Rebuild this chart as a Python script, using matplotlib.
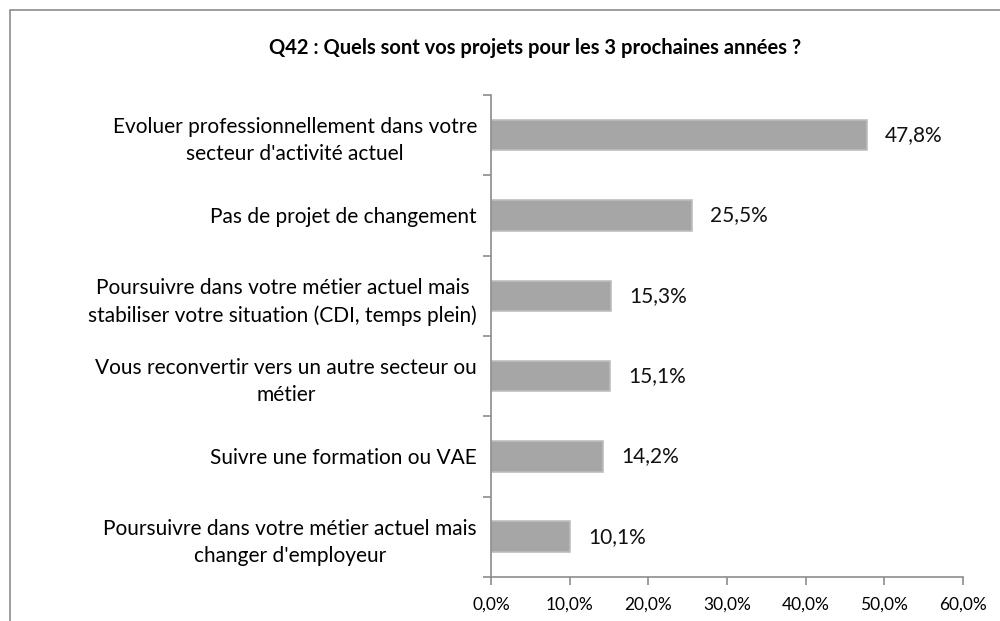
import numpy as np
import matplotlib.pyplot as plt
from matplotlib.patches import Rectangle

plt.rcParams['font.family'] = ['Lato', 'DejaVu Sans']

title = "Q42 : Quels sont vos projets pour les 3 prochaines années ?"
categories = [
    "Evoluer professionnellement dans votre\nsecteur d'activité actuel",
    "Pas de projet de changement",
    "Poursuivre dans votre métier actuel mais\nstabiliser votre situation (CDI, temps plein)",
    "Vous reconvertir vers un autre secteur ou\nmétier",
    "Suivre une formation ou VAE",
    "Poursuivre dans votre métier actuel mais\nchanger d'employeur",
]
values = [47.8, 25.5, 15.3, 15.1, 14.2, 10.1]
xticks = [0, 10, 20, 30, 40, 50, 60]

fig = plt.figure(figsize=(10, 6.21), dpi=100)
ax = fig.add_axes([0.491, 0.071, 0.472, 0.776])

# chart frame (only left and top edges visible in the crop)
fig.patches.append(Rectangle((0.010, -0.5), 2.0, 1.484, transform=fig.transFigure,
                             fill=False, edgecolor='#8c8c8c', linewidth=1.2))

y = np.arange(len(categories))
ax.barh(y, values, height=0.38, color='#a6a6a6', edgecolor='#bdbdbd', linewidth=1.2)

for yi, v in zip(y, values):
    ax.text(v + 2.3, yi, f"{v:.1f}%".replace('.', ','), va='center', ha='left',
            fontsize=15, color='#111111')

ax.set_xlim(0, 60)
ax.set_ylim(len(categories) - 0.5, -0.5)
ax.set_xticks(xticks)
ax.set_xticklabels([f"{t:.1f}%".replace('.', ',') for t in xticks], fontsize=12.5)

ax.set_yticks(y)
ax.set_yticklabels(categories, fontsize=15, multialignment='center', linespacing=1.45)
ax.tick_params(axis='y', length=0, pad=10)
ax.set_yticks(np.arange(-0.5, len(categories)), minor=True)
ax.tick_params(axis='y', which='minor', length=6, color='#8c8c8c', width=1.2)
ax.tick_params(axis='x', length=6, color='#8c8c8c', width=1.2, pad=8)

for s in ['top', 'right']:
    ax.spines[s].set_visible(False)
for s in ['left', 'bottom']:
    ax.spines[s].set_color('#8c8c8c')
    ax.spines[s].set_linewidth(1.2)

fig.text(0.535, 0.922, title, ha='center', va='center', fontsize=14.5, fontweight='bold')

fig.savefig('out.png', dpi=100)
